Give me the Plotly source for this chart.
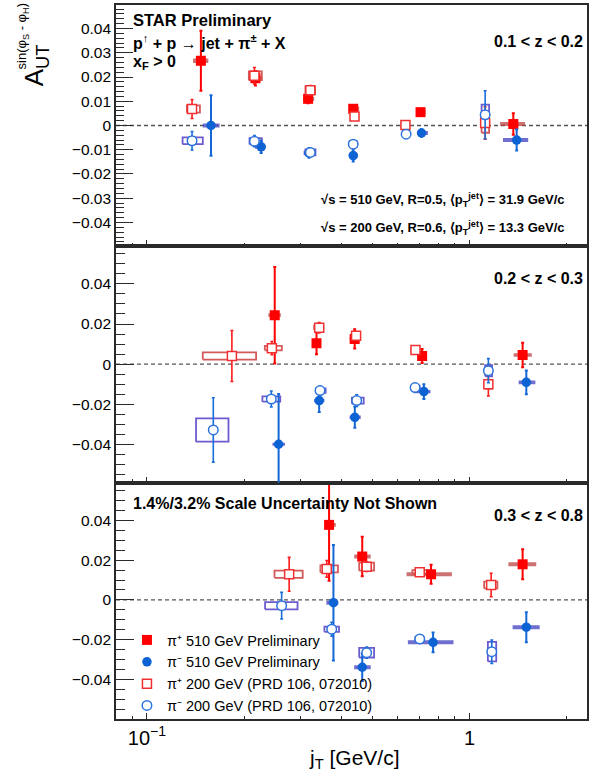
import plotly.graph_objects as go
import math

# ---------------- DATA ----------------
# Panel 1 : 0.1 < z < 0.2
z1_pip510_jt   = [0.147, 0.217, 0.316, 0.436, 0.705, 1.367]
z1_pip510_a    = [0.0267, 0.0195, 0.0110, 0.0069, 0.0055, 0.0006]
z1_pip510_stat = [0.0124, 0.0030, 0.0018, 0.0016, 0.0014, 0.0044]
z1_pip510_sys  = [0.0009, 0.0010, 0.0009, 0.0009, 0.0008, 0.0008]
z1_pip510_lo   = [0.139, 0.207, 0.305, 0.425, 0.685, 1.244]
z1_pip510_hi   = [0.155, 0.228, 0.330, 0.455, 0.730, 1.486]

z1_pim510_jt   = [0.158, 0.226, 0.318, 0.436, 0.710, 1.400]
z1_pim510_a    = [0.0000, -0.0088, -0.0113, -0.0124, -0.0031, -0.0060]
z1_pim510_stat = [0.0125, 0.0026, 0.0020, 0.0025, 0.0015, 0.0043]
z1_pim510_sys  = [0.0008, 0.0008, 0.0009, 0.0009, 0.0008, 0.0008]
z1_pim510_lo   = [0.149, 0.216, 0.306, 0.425, 0.688, 1.270]
z1_pim510_hi   = [0.168, 0.233, 0.330, 0.450, 0.743, 1.520]

z1_pip200_jt   = [0.138, 0.2154, 0.321, 0.440, 0.633, 1.118]
z1_pip200_a    = [0.0068, 0.0205, 0.0145, 0.0037, 0.0002, 0.0010]
z1_pip200_stat = [0.0039, 0.0034, 0.0020, 0.0015, 0.0012, 0.0067]
z1_pip200_sys  = [0.0015, 0.0018, 0.0015, 0.0013, 0.0012, 0.0040]
z1_pip200_lo   = [0.133, 0.207, 0.310, 0.430, 0.615, 1.090]
z1_pip200_hi   = [0.146, 0.227, 0.332, 0.452, 0.650, 1.150]

z1_pim200_jt   = [0.138, 0.2154, 0.321, 0.436, 0.636, 1.118]
z1_pim200_a    = [-0.0063, -0.0065, -0.0111, -0.0077, -0.0036, 0.0044]
z1_pim200_stat = [0.0038, 0.0023, 0.0017, 0.0017, 0.0012, 0.0099]
z1_pim200_sys  = [0.0014, 0.0013, 0.0012, 0.0012, 0.0009, 0.0042]
z1_pim200_lo   = [0.129, 0.208, 0.310, 0.425, 0.622, 1.090]
z1_pim200_hi   = [0.149, 0.227, 0.333, 0.447, 0.650, 1.150]

# Panel 2 : 0.2 < z < 0.3
z2_pip510_jt   = [0.249, 0.3355, 0.4406, 0.713, 1.461]
z2_pip510_a    = [0.0244, 0.0104, 0.0126, 0.0041, 0.0046]
z2_pip510_stat = [0.0240, 0.0055, 0.0048, 0.0035, 0.0061]
z2_pip510_sys  = [0.0009, 0.0008, 0.0009, 0.0008, 0.0009]
z2_pip510_lo   = [0.238, 0.325, 0.425, 0.690, 1.370]
z2_pip510_hi   = [0.260, 0.345, 0.458, 0.735, 1.560]

z2_pim510_jt   = [0.256, 0.342, 0.441, 0.722, 1.500]
z2_pim510_a    = [-0.0398, -0.0181, -0.0264, -0.0136, -0.0090]
z2_pim510_stat = [0.0250, 0.0056, 0.0052, 0.0037, 0.0059]
z2_pim510_sys  = [0.0008, 0.0008, 0.0009, 0.0008, 0.0009]
z2_pim510_lo   = [0.245, 0.330, 0.425, 0.672, 1.420]
z2_pim510_hi   = [0.268, 0.355, 0.460, 0.757, 1.600]

z2_pip200_jt   = [0.1834, 0.244, 0.342, 0.445, 0.680, 1.144]
z2_pip200_a    = [0.0041, 0.0080, 0.0181, 0.0142, 0.0071, -0.0100]
z2_pip200_stat = [0.0127, 0.0033, 0.0026, 0.0018, 0.0015, 0.0058]
z2_pip200_sys  = [0.0018, 0.0011, 0.0011, 0.0012, 0.0012, 0.0021]
z2_pip200_lo   = [0.149, 0.232, 0.330, 0.432, 0.660, 1.115]
z2_pip200_hi   = [0.218, 0.262, 0.352, 0.458, 0.700, 1.175]

z2_pim200_jt   = [0.1606, 0.243, 0.344, 0.447, 0.678, 1.144]
z2_pim200_a    = [-0.0327, -0.0173, -0.0131, -0.0181, -0.0116, -0.0032]
z2_pim200_stat = [0.0160, 0.0040, 0.0023, 0.0029, 0.0012, 0.0060]
z2_pim200_sys  = [0.0058, 0.0013, 0.0011, 0.0015, 0.0010, 0.0028]
z2_pim200_lo   = [0.142, 0.228, 0.334, 0.432, 0.660, 1.118]
z2_pim200_hi   = [0.179, 0.259, 0.358, 0.470, 0.700, 1.175]

# Panel 3 : 0.3 < z < 0.8
z3_pip510_jt   = [0.367, 0.465, 0.760, 1.461]
z3_pip510_a    = [0.0377, 0.0218, 0.0129, 0.0179]
z3_pip510_stat = [0.0280, 0.0099, 0.0048, 0.0075]
z3_pip510_sys  = [0.0010, 0.0010, 0.0010, 0.0010]
z3_pip510_lo   = [0.355, 0.439, 0.638, 1.320]
z3_pip510_hi   = [0.385, 0.494, 0.882, 1.610]

z3_pim510_jt   = [0.3786, 0.465, 0.771, 1.500]
z3_pim510_a    = [-0.0014, -0.0338, -0.0213, -0.0137]
z3_pim510_stat = [0.0290, 0.0069, 0.0050, 0.0075]
z3_pim510_sys  = [0.0010, 0.0010, 0.0010, 0.0010]
z3_pim510_lo   = [0.360, 0.439, 0.644, 1.360]
z3_pim510_hi   = [0.392, 0.494, 0.892, 1.650]

z3_pip200_jt   = [0.276, 0.361, 0.480, 0.701, 1.167]
z3_pip200_a    = [0.0129, 0.0156, 0.0167, 0.0139, 0.0075]
z3_pip200_stat = [0.0085, 0.0042, 0.0024, 0.0012, 0.0059]
z3_pip200_sys  = [0.0018, 0.0018, 0.0020, 0.0011, 0.0017]
z3_pip200_lo   = [0.2486, 0.345, 0.455, 0.665, 1.110]
z3_pip200_hi   = [0.304, 0.391, 0.506, 0.740, 1.220]

z3_pim200_jt   = [0.2616, 0.374, 0.480, 0.701, 1.172]
z3_pim200_a    = [-0.0029, -0.0147, -0.0265, -0.0196, -0.0260]
z3_pim200_stat = [0.0067, 0.0035, 0.0028, 0.0012, 0.0059]
z3_pim200_sys  = [0.0018, 0.0013, 0.0024, 0.0009, 0.0049]
z3_pim200_lo   = [0.2324, 0.355, 0.455, 0.680, 1.140]
z3_pim200_hi   = [0.293, 0.394, 0.506, 0.720, 1.210]

z_labels = ["0.1 < z < 0.2", "0.2 < z < 0.3", "0.3 < z < 0.8"]
legend_names = ["π⁺ 510 GeV Preliminary",
                "π⁻ 510 GeV Preliminary",
                "π⁺ 200 GeV (PRD 106, 072010)",
                "π⁻ 200 GeV (PRD 106, 072010)"]
xtick_vals = [0.1, 1]
xtick_text = ["10<sup>−1</sup>", "1"]
xminor_vals = [0.09, 0.2, 0.3, 0.4, 0.5, 0.6, 0.7, 0.8, 0.9, 2]

panels = [
    dict(pip510=(z1_pip510_jt, z1_pip510_a, z1_pip510_stat, z1_pip510_sys, z1_pip510_lo, z1_pip510_hi),
         pim510=(z1_pim510_jt, z1_pim510_a, z1_pim510_stat, z1_pim510_sys, z1_pim510_lo, z1_pim510_hi),
         pip200=(z1_pip200_jt, z1_pip200_a, z1_pip200_stat, z1_pip200_sys, z1_pip200_lo, z1_pip200_hi),
         pim200=(z1_pim200_jt, z1_pim200_a, z1_pim200_stat, z1_pim200_sys, z1_pim200_lo, z1_pim200_hi)),
    dict(pip510=(z2_pip510_jt, z2_pip510_a, z2_pip510_stat, z2_pip510_sys, z2_pip510_lo, z2_pip510_hi),
         pim510=(z2_pim510_jt, z2_pim510_a, z2_pim510_stat, z2_pim510_sys, z2_pim510_lo, z2_pim510_hi),
         pip200=(z2_pip200_jt, z2_pip200_a, z2_pip200_stat, z2_pip200_sys, z2_pip200_lo, z2_pip200_hi),
         pim200=(z2_pim200_jt, z2_pim200_a, z2_pim200_stat, z2_pim200_sys, z2_pim200_lo, z2_pim200_hi)),
    dict(pip510=(z3_pip510_jt, z3_pip510_a, z3_pip510_stat, z3_pip510_sys, z3_pip510_lo, z3_pip510_hi),
         pim510=(z3_pim510_jt, z3_pim510_a, z3_pim510_stat, z3_pim510_sys, z3_pim510_lo, z3_pim510_hi),
         pip200=(z3_pip200_jt, z3_pip200_a, z3_pip200_stat, z3_pip200_sys, z3_pip200_lo, z3_pip200_hi),
         pim200=(z3_pim200_jt, z3_pim200_a, z3_pim200_stat, z3_pim200_sys, z3_pim200_lo, z3_pim200_hi)),
]

# ---------------- STYLE ----------------
FONT = "Liberation Sans, Arial, Helvetica, sans-serif"
W, H = 591, 776
ML, MR, MT, MB = 116, 2, 5, 57
styles = {
    "pip510": dict(marker=dict(symbol="square", size=10, color="#ff0000", line=dict(width=0)),
                   err="#ff0000", ew=2.0, box_fill="rgba(185,60,60,0.72)", box_line=None),
    "pim510": dict(marker=dict(symbol="circle", size=9.5, color="#0d63d3", line=dict(width=0)),
                   err="#1468d6", ew=2.0, box_fill="rgba(70,70,195,0.78)", box_line=None),
    "pip200": dict(marker=dict(symbol="square", size=9, color="white", line=dict(width=1.5, color="#f03030")),
                   err="#ff1a1a", ew=1.6, box_fill=None, box_line="#d45a5a"),
    "pim200": dict(marker=dict(symbol="circle", size=9.5, color="white", line=dict(width=1.5, color="#2a72dc")),
                   err="#1a6fd8", ew=1.6, box_fill=None, box_line="#6a5ccf"),
}
order = ["pip510", "pim510", "pip200", "pim200"]

# panel index -> axis names (panel 0 is the top one)
axmap = {0: ("x3", "y3"), 1: ("x2", "y2"), 2: ("x", "y")}
yranges = {0: [-0.0497, 0.0497], 1: [-0.0589, 0.0588], 2: [-0.0598, 0.0589]}
plot_h = H - MT - MB
dom = {2: [0.0, 0.331], 1: [0.331, 0.6625], 0: [0.6625, 1.0]}

fig = go.Figure()

for p, pdata in enumerate(panels):
    xa, ya = axmap[p]
    # systematic boxes first
    for key in ["pip510", "pim510", "pip200", "pim200"]:
        jt, a, st, sy, lo, hi = pdata[key]
        bx, by = [], []
        for i in range(len(jt)):
            bx += [lo[i], hi[i], hi[i], lo[i], lo[i], None]
            by += [a[i] - sy[i], a[i] - sy[i], a[i] + sy[i], a[i] + sy[i], a[i] - sy[i], None]
        s = styles[key]
        if s["box_fill"]:
            fig.add_trace(go.Scatter(x=bx, y=by, xaxis=xa, yaxis=ya, mode="lines", fill="toself",
                                     fillcolor=s["box_fill"], line=dict(width=0, color=s["box_fill"]),
                                     showlegend=False, hoverinfo="skip"))
        else:
            fig.add_trace(go.Scatter(x=bx, y=by, xaxis=xa, yaxis=ya, mode="lines",
                                     line=dict(width=1.8, color=s["box_line"]),
                                     showlegend=False, hoverinfo="skip"))
    # points with statistical errors
    for k, key in enumerate(order):
        jt, a, st, sy, lo, hi = pdata[key]
        s = styles[key]
        fig.add_trace(go.Scatter(
            x=jt, y=a, xaxis=xa, yaxis=ya, mode="markers",
            marker=s["marker"], name=legend_names[k], legendgroup=key,
            showlegend=(p == 0), legendrank=k + 1,
            error_y=dict(type="data", array=st, visible=True, color=s["err"],
                         thickness=s["ew"], width=1.5)))

axis_line = dict(showline=True, linecolor="#2a2a2a", linewidth=1.6, mirror=True,
                 showgrid=False, zeroline=False)
layout = dict(width=W, height=H, margin=dict(l=ML, r=MR, t=MT, b=MB),
              paper_bgcolor="white", plot_bgcolor="white",
              font=dict(family=FONT, color="black"))

xrange_log = [math.log10(0.0802), math.log10(2.313)]
for p in range(3):
    xa, ya = axmap[p]
    xname = "xaxis" if xa == "x" else "xaxis" + xa[1:]
    yname = "yaxis" if ya == "y" else "yaxis" + ya[1:]
    layout[xname] = dict(type="log", range=xrange_log, anchor=ya, domain=[0, 1],
                         tickmode="array", tickvals=xtick_vals, ticktext=xtick_text,
                         showticklabels=(p == 2), ticks="inside", ticklen=6, tickwidth=1.2,
                         tickcolor="#2a2a2a",
                         tickfont=dict(size=20, family=FONT),
                         minor=dict(tickmode="array", tickvals=xminor_vals, ticks="inside",
                                    ticklen=3.5, tickwidth=1.1, tickcolor="#2a2a2a"),
                         **axis_line)
    if p == 0:
        yt = [-0.04, -0.03, -0.02, -0.01, 0, 0.01, 0.02, 0.03, 0.04]
        mdt, tl, mtl = 0.002, 17, 8
    else:
        yt = [-0.04, -0.02, 0, 0.02, 0.04]
        mdt, tl, mtl = 0.005, 18, 9
    layout[yname] = dict(range=yranges[p], domain=dom[p], anchor=xa,
                         tickmode="array", tickvals=yt, ticks="inside", ticklen=tl, tickwidth=1.3,
                         tickcolor="#2a2a2a", tickfont=dict(size=15.5, family=FONT),
                         minor=dict(dtick=mdt, tick0=0, ticks="inside", ticklen=mtl,
                                    tickwidth=1.1, tickcolor="#2a2a2a"),
                         **axis_line)

fig.update_layout(**layout)

# zero dashed lines
shapes = []
for p in range(3):
    xa, ya = axmap[p]
    shapes.append(dict(type="line", xref=xa + " domain", yref=ya, x0=0, x1=1, y0=0, y1=0,
                       line=dict(color="#555555", width=1.3, dash="4px,3px"), layer="below"))
fig.update_layout(shapes=shapes)

PW = W - ML - MR
def px(x):
    return (x - ML) / PW
def py(y):
    return (H - MB - y) / plot_h

ann = []
def add(text, x, y, size, xanchor="left", yanchor="middle", angle=0, bold=True):
    ann.append(dict(text=("<b>%s</b>" % text) if bold else text, x=px(x), y=py(y),
                    xref="paper", yref="paper", showarrow=False, xanchor=xanchor,
                    yanchor=yanchor, textangle=angle, font=dict(size=size, family=FONT, color="black")))

add("STAR Preliminary", 131, 20, 16.5)
add("p<sup>↑</sup> + p → jet + π<sup>±</sup> + X", 131, 41.5, 16)
add("x<sub>F</sub> > 0", 131, 62.5, 16)
add(z_labels[0], 587, 41, 16, xanchor="right")
add("√s = 510 GeV, R=0.5, ⟨p<sub>T</sub><sup>jet</sup>⟩ = 31.9 GeV/c", 569, 200, 13, xanchor="right")
add("√s = 200 GeV, R=0.6, ⟨p<sub>T</sub><sup>jet</sup>⟩ = 13.3 GeV/c", 569, 228, 13, xanchor="right")
add(z_labels[1], 587, 278, 16, xanchor="right")
add("1.4%/3.2% Scale Uncertainty Not Shown", 131, 503, 16)
add(z_labels[2], 587, 515, 16, xanchor="right")
add("j<sub>T</sub> [GeV/c]", 356, 744, 21, xanchor="center", yanchor="top", bold=False)
add("A<sub>UT</sub>", 35, 88, 26, xanchor="center", yanchor="bottom", angle=-90, bold=False)
add("sin(φ<sub>S</sub> - φ<sub>H</sub>)", 22, 1, 13, xanchor="center", yanchor="top", angle=-90, bold=False)
fig.update_layout(annotations=ann)

fig.update_layout(legend=dict(x=px(127), y=py(624), xanchor="left", yanchor="top",
                              bgcolor="rgba(0,0,0,0)", borderwidth=0, itemwidth=30,
                              font=dict(size=14.5, family=FONT), tracegroupgap=0,
                              traceorder="normal"))

fig.write_html("out.html", config={"displayModeBar": False},
               post_script="document.body.style.margin='0';document.body.style.overflow='hidden';")
